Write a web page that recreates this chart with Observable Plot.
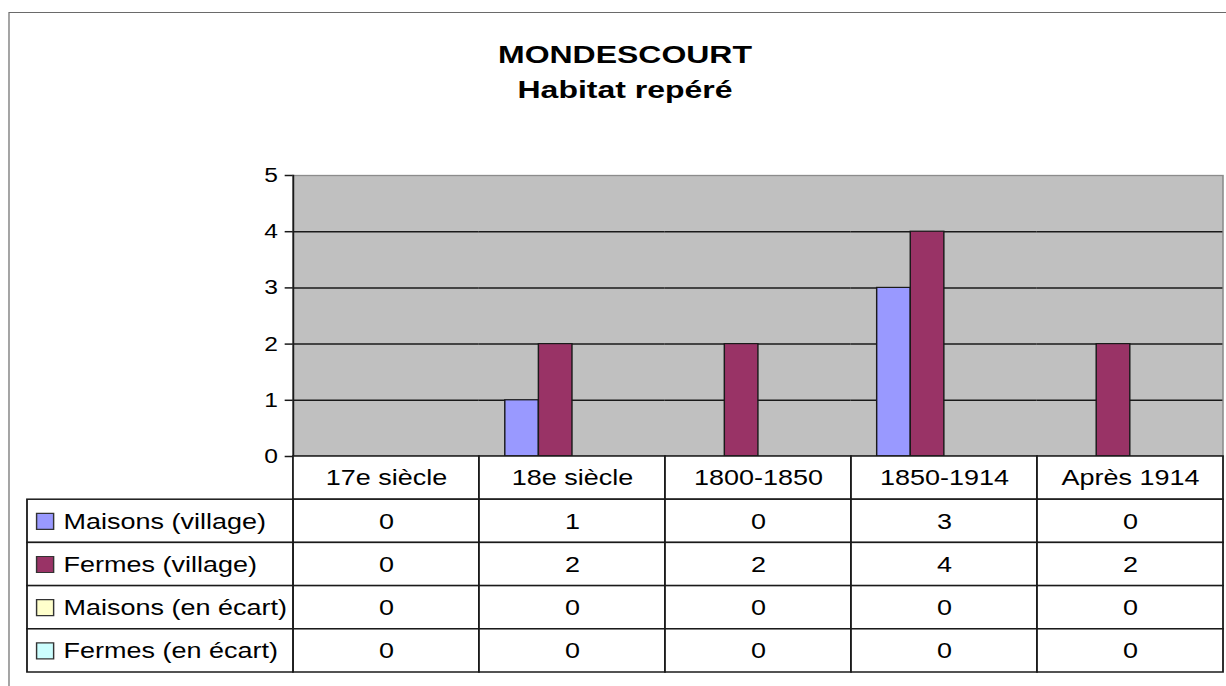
<!DOCTYPE html>
<html><head><meta charset="utf-8">
<script src="https://cdn.jsdelivr.net/npm/d3@7"></script>
<script src="https://cdn.jsdelivr.net/npm/@observablehq/plot@0.6"></script>
<style>
html,body{margin:0;padding:0;background:#fff;overflow:hidden;width:1226px;height:686px;}
#wrap{position:absolute;left:0;top:0;width:1022px;height:686px;transform:scaleX(1.19961);transform-origin:0 0;font-family:"Liberation Sans",Arial,sans-serif;}
#frame{position:absolute;left:6.8px;top:11.5px;width:1100px;height:700px;border:1.6px solid #6a6a6a;box-sizing:border-box;}
#title{position:absolute;left:321px;width:400px;top:37px;text-align:center;font-weight:bold;font-size:24px;line-height:35px;color:#000;transform:scaleX(1.11);}
#bars{position:absolute;left:0;top:0;}
#table{position:absolute;left:0;top:455px;}
</style></head>
<body><div id="wrap"><div id="frame"></div><div id="title"><div>MONDESCOURT</div><div>Habitat repéré</div></div><div id="bars"></div><div id="table"></div></div>
<script>
const categories = ["17e siècle","18e siècle","1800-1850","1850-1914","Après 1914"];
const seriesNames = ["Maisons (village)","Fermes (village)","Maisons (en écart)","Fermes (en écart)"];
const maisonsVillage = [0,1,0,3,0];
const fermesVillage = [0,2,2,4,2];
const maisonsEcart = [0,0,0,0,0];
const fermesEcart = [0,0,0,0,0];
const seriesColors = ["#9999FF","#993366","#FFFFCC","#CCFFFF"];
const yTicks = [0,1,2,3,4,5];
const gridValues = [1,2,3,4];

const seriesValues = [maisonsVillage, fermesVillage, maisonsEcart, fermesEcart];
const data = [];
categories.forEach((c,i) => seriesNames.forEach((s,j) => data.push({cat:c, series:s, value:seriesValues[j][i]})));

const W = 1022, ML = 244.2, MR = 2.5;
const FONT = '"Liberation Sans", Arial, sans-serif';
const LINE = "#1a1a1a";

const bars = Plot.plot({
  width: W, height: 457,
  marginLeft: ML, marginRight: MR, marginTop: 175, marginBottom: 1,
  style: {fontFamily: FONT, fontSize: "20px", color: "#000", background: "transparent", overflow: "visible", maxWidth: "none"},
  fx: {domain: categories, padding: 0, axis: null},
  x: {domain: seriesNames, paddingInner: 0, paddingOuter: 0.7, axis: null},
  y: {domain: [0, 5], label: null},
  color: {domain: seriesNames, range: seriesColors},
  marks: [
    Plot.frame({fill: "#C0C0C0", stroke: "#8c8c8c", strokeWidth: 1.3, facet: "super"}),
    Plot.ruleY(gridValues, {stroke: LINE, strokeWidth: 1.5}),
    Plot.barY(data, {fx: "cat", x: "series", y: "value", fill: "series", stroke: LINE, strokeWidth: 1.2}),
    Plot.ruleY([0], {stroke: LINE, strokeWidth: 1.5}),
    Plot.axisY({ticks: yTicks, tickSize: 6.7, tickPadding: 6.2, fontSize: 20.5, stroke: LINE, strokeWidth: 1.5, label: null, tickFormat: d => String(d)}),
    Plot.frame({anchor: "left", stroke: LINE, strokeWidth: 1.5, facet: "super"})
  ]
});
document.getElementById("bars").append(bars);

// table
const LEG = -1.4298;
const headerCells = categories.map((c,i) => ({x1:i, x2:i+1, y1:0, y2:1, text:c}));
const valueCells = [];
seriesNames.forEach((s,j) => categories.forEach((c,i) => valueCells.push({x1:i, x2:i+1, y1:j+1, y2:j+2, text:String(seriesValues[j][i])})));
const legendCells = seriesNames.map((s,j) => ({x1:LEG, x2:0, y1:j+1, y2:j+2, text:s}));
const swatch = {draw(ctx){ctx.moveTo(-7.1,-8);ctx.lineTo(7.1,-8);ctx.lineTo(7.1,8);ctx.lineTo(-7.1,8);ctx.closePath();}};
const cx = d => (d.x1+d.x2)/2, cy = d => (d.y1+d.y2)/2;

const table = Plot.plot({
  width: W, height: 231,
  marginLeft: 22.5, marginRight: MR, marginTop: 1, marginBottom: 14,
  style: {fontFamily: FONT, fontSize: "22px", color: "#000", background: "transparent", overflow: "visible", maxWidth: "none"},
  x: {type: "linear", domain: [LEG, categories.length], axis: null},
  y: {type: "linear", domain: [0, seriesNames.length + 1], reverse: true, axis: null},
  color: {domain: seriesNames, range: seriesColors},
  marks: [
    Plot.rect(headerCells, {x1:"x1", x2:"x2", y1:"y1", y2:"y2", fill:"white", stroke: LINE, strokeWidth: 1.5}),
    Plot.rect(valueCells, {x1:"x1", x2:"x2", y1:"y1", y2:"y2", fill:"white", stroke: LINE, strokeWidth: 1.5}),
    Plot.rect(legendCells, {x1:"x1", x2:"x2", y1:"y1", y2:"y2", fill:"white", stroke: LINE, strokeWidth: 1.5}),
    Plot.text(headerCells, {x: cx, y: cy, text: "text", fontSize: 22.5}),
    Plot.text(valueCells, {x: cx, y: cy, text: "text", fontSize: 22.5}),
    Plot.dot(legendCells, {x: "x1", y: cy, dx: 14.6, symbol: swatch, fill: "text", stroke: "#333", strokeWidth: 1.2}),
    Plot.text(legendCells, {x: "x1", y: cy, dx: 30, text: "text", textAnchor: "start", fontSize: 22.5})
  ]
});
document.getElementById("table").append(table);
</script>
</body></html>
